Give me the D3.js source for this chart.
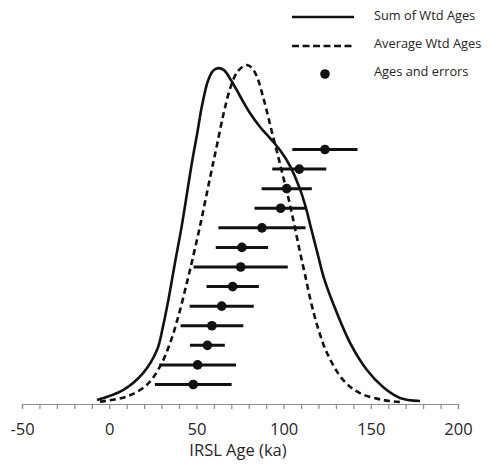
<!DOCTYPE html>
<html>
<head>
<meta charset="utf-8">
<script src="https://cdn.jsdelivr.net/npm/d3@7"></script>
<style>
  html, body { margin: 0; padding: 0; background: #fff; }
  svg { display: block; }
  text { font-family: "Open Sans", "Liberation Sans", sans-serif; fill: #262626; }
</style>
</head>
<body>
<svg id="chart" width="488" height="465"></svg>
<script>
// Summed probability density of weighted ages (relative units, age in ka)
const sumAge  = [-7.0, 7.9, 19.4, 27.4, 30.8, 33.7, 37.7, 41.7, 47.5, 50.3, 53.2, 56.6, 59.5, 62.4, 65.8, 69.8, 75.0, 80.7, 86.5, 92.2, 97.9, 103.7, 109.4, 112.8, 115.7, 119.7, 123.1, 128.3, 138.1, 147.8, 157.0, 166.7, 178.2];
const sumDens = [0.006, 0.035, 0.085, 0.153, 0.221, 0.294, 0.409, 0.521, 0.706, 0.785, 0.871, 0.944, 0.974, 0.982, 0.976, 0.947, 0.900, 0.850, 0.809, 0.776, 0.741, 0.694, 0.626, 0.571, 0.512, 0.432, 0.365, 0.291, 0.174, 0.094, 0.044, 0.012, 0.003];

// Averaged probability density of weighted ages
const avgAge  = [-5.3, 10.0, 21.5, 29.1, 34.9, 39.6, 43.5, 46.3, 52.1, 57.8, 61.8, 65.8, 69.8, 73.9, 78.8, 81.9, 84.8, 87.6, 90.5, 93.3, 96.8, 100.2, 103.7, 106.5, 109.4, 112.3, 115.7, 119.7, 124.9, 134.1, 143.8, 157.0, 166.7];
const avgDens = [0.001, 0.016, 0.050, 0.104, 0.173, 0.251, 0.329, 0.388, 0.518, 0.659, 0.756, 0.853, 0.929, 0.974, 0.991, 0.982, 0.956, 0.909, 0.853, 0.794, 0.724, 0.653, 0.579, 0.512, 0.441, 0.374, 0.294, 0.218, 0.144, 0.065, 0.026, 0.006, 0.000];

// Individual IRSL ages (ka) and 1-sigma errors, ordered from oldest to youngest
const sampleAges   = [123.7, 109.0, 101.8, 98.3, 87.6, 76.1, 75.4, 70.8, 64.5, 58.9, 56.3, 50.7, 48.2];
const sampleErrors = [18.7, 15.5, 14.4, 15.0, 25.0, 15.0, 27.0, 15.0, 18.4, 18.0, 10.0, 22.0, 22.0];

// Axis ticks
const majorTicks = [-50, 0, 50, 100, 150, 200];
const minorTicks = d3.range(-50, 201, 10);

const legendLabels = ["Sum of Wtd Ages", "Average Wtd Ages", "Ages and errors"];

const svg = d3.select("#chart");

const x = d3.scaleLinear().domain([-50, 200]).range([22, 458]);
const yDens = d3.scaleLinear().domain([0, 1]).range([402, 62]);
const yRank = d3.scaleLinear().domain([0, sampleAges.length - 1]).range([149.5, 384.5]);

// x axis: baseline with outward tick marks every 10 ka
const axis = svg.append("g").attr("transform", "translate(0,404)");
axis.call(d3.axisBottom(x).tickValues(minorTicks).tickSize(5).tickFormat(""))
  .call(g => g.select(".domain").attr("stroke", "#8c8c8c").attr("stroke-width", 1.2))
  .call(g => g.selectAll(".tick line").attr("stroke", "#8c8c8c").attr("stroke-width", 1.2));
axis.append("g")
  .call(d3.axisBottom(x).tickValues(majorTicks).tickSize(0).tickPadding(0).tickFormat(d => String(d)))
  .call(g => g.select(".domain").remove())
  .call(g => g.selectAll("text")
    .attr("y", 0).attr("dy", 0)
    .attr("transform", "translate(0,30.5)")
    .style("font-size", "16.5px")
    .style("font-family", "'Open Sans', sans-serif")
    .attr("fill", "#262626"));

svg.append("text")
  .attr("x", 238).attr("y", 456)
  .attr("text-anchor", "middle")
  .style("font-size", "16.5px")
  .text("IRSL Age (ka)");

// Density curves
const line = d3.line().x(d => x(d[0])).y(d => yDens(d[1])).curve(d3.curveCatmullRom.alpha(0.5));

svg.append("path")
  .datum(d3.zip(avgAge, avgDens))
  .attr("d", line)
  .attr("fill", "none")
  .attr("stroke", "#111")
  .attr("stroke-width", 2.6)
  .attr("stroke-dasharray", "6,4");

svg.append("path")
  .datum(d3.zip(sumAge, sumDens))
  .attr("d", line)
  .attr("fill", "none")
  .attr("stroke", "#111")
  .attr("stroke-width", 2.6);

// Ages with error bars
const pts = svg.append("g").selectAll("g")
  .data(sampleAges.map((a, i) => ({ age: a, err: sampleErrors[i], i })))
  .join("g");
pts.append("line")
  .attr("x1", d => x(d.age - d.err))
  .attr("x2", d => x(d.age + d.err))
  .attr("y1", d => yRank(d.i))
  .attr("y2", d => yRank(d.i))
  .attr("stroke", "#111")
  .attr("stroke-width", 3);
pts.append("circle")
  .attr("cx", d => x(d.age))
  .attr("cy", d => yRank(d.i))
  .attr("r", 4.8)
  .attr("fill", "#111");

// Legend
const leg = svg.append("g");
leg.append("line").attr("x1", 292).attr("x2", 354).attr("y1", 17).attr("y2", 17)
  .attr("stroke", "#111").attr("stroke-width", 2.6);
leg.append("line").attr("x1", 292).attr("x2", 354).attr("y1", 46).attr("y2", 46)
  .attr("stroke", "#111").attr("stroke-width", 2.6).attr("stroke-dasharray", "7,3.5");
leg.append("circle").attr("cx", 325).attr("cy", 74).attr("r", 4.8).attr("fill", "#111");
leg.selectAll("text")
  .data(legendLabels)
  .join("text")
  .attr("x", 374)
  .attr("y", (d, i) => 20 + i * 28)
  .style("font-size", "12.8px")
  .text(d => d);
</script>
</body>
</html>
